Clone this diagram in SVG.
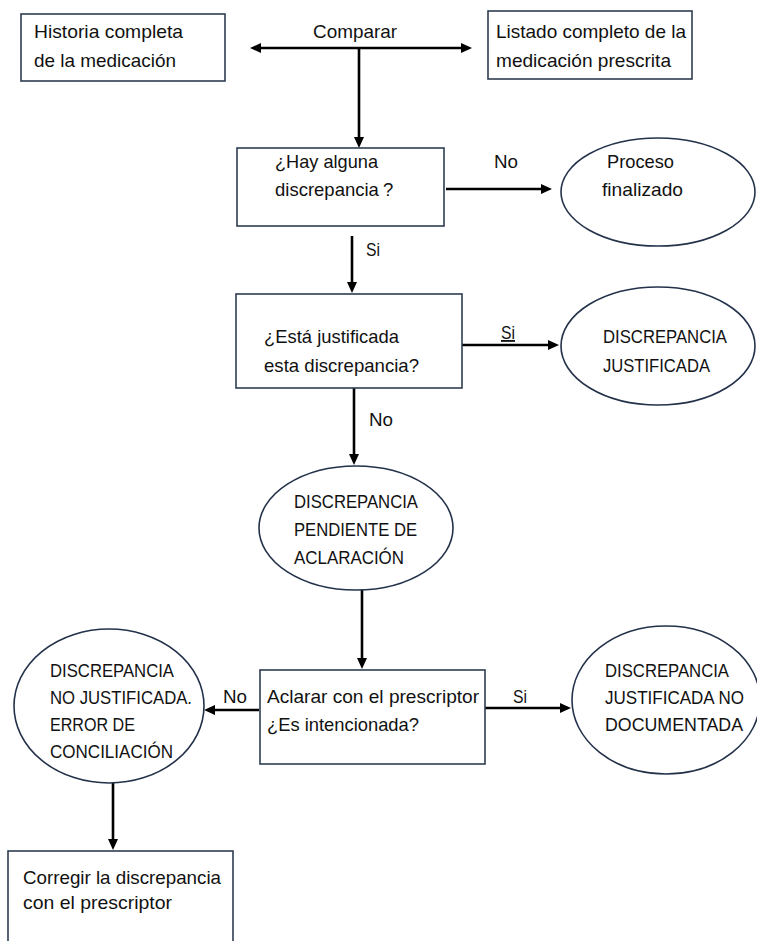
<svg xmlns="http://www.w3.org/2000/svg" width="757" height="941" viewBox="0 0 757 941">
<defs>
<style>
.bx{fill:#fff;stroke:#2f3c50;stroke-width:1.6}
.el{fill:#fff;stroke:#23324a;stroke-width:1.6}
.t{font-family:"Liberation Sans",Arial,sans-serif;font-size:18.5px;fill:#111}
.c{fill:none;stroke:#000;stroke-width:2.6}
</style>
<marker id="arr" viewBox="0 0 11 10" refX="7" refY="5" markerWidth="11" markerHeight="10" markerUnits="userSpaceOnUse" orient="auto-start-reverse">
<path d="M0,0 L11,5 L0,10 z" fill="#000"/>
</marker>
</defs>
<rect width="757" height="941" fill="#fff"/>

<g id="connectors">
<line class="c" x1="254" y1="48" x2="468" y2="48" marker-start="url(#arr)" marker-end="url(#arr)"/>
<line class="c" x1="359" y1="48" x2="359" y2="144" marker-end="url(#arr)"/>
<line class="c" x1="446" y1="189" x2="548" y2="189" marker-end="url(#arr)"/>
<line class="c" x1="352" y1="236" x2="352" y2="289" marker-end="url(#arr)"/>
<line class="c" x1="462" y1="345" x2="555" y2="345" marker-end="url(#arr)"/>
<line class="c" x1="354" y1="388" x2="354" y2="461" marker-end="url(#arr)"/>
<line class="c" x1="362" y1="590" x2="362" y2="665" marker-end="url(#arr)"/>
<line class="c" x1="259" y1="710" x2="208" y2="710" marker-end="url(#arr)"/>
<line class="c" x1="485" y1="708" x2="567" y2="708" marker-end="url(#arr)"/>
<line class="c" x1="113" y1="783" x2="113" y2="846" marker-end="url(#arr)"/>
<text class="t" x="313" y="38" textLength="84" lengthAdjust="spacingAndGlyphs">Comparar</text>
<text class="t" x="494" y="168" textLength="24" lengthAdjust="spacingAndGlyphs">No</text>
<text class="t" x="366" y="256" textLength="14" lengthAdjust="spacingAndGlyphs">Si</text>
<text class="t" x="501" y="339" textLength="14" lengthAdjust="spacingAndGlyphs" text-decoration="underline">Si</text>
<text class="t" x="369" y="426" textLength="24" lengthAdjust="spacingAndGlyphs">No</text>
<text class="t" x="223" y="703" textLength="24" lengthAdjust="spacingAndGlyphs">No</text>
<text class="t" x="513" y="703" textLength="14" lengthAdjust="spacingAndGlyphs">Si</text>
</g>

<g id="historia">
<rect class="bx" x="21" y="14" width="204" height="67"/>
<text class="t" x="34" y="38" textLength="149" lengthAdjust="spacingAndGlyphs">Historia completa</text>
<text class="t" x="34" y="67" textLength="142" lengthAdjust="spacingAndGlyphs">de la medicación</text>
</g>

<g id="listado">
<rect class="bx" x="488" y="11" width="204" height="68"/>
<text class="t" x="496" y="38" textLength="190" lengthAdjust="spacingAndGlyphs">Listado completo de la</text>
<text class="t" x="496" y="67" textLength="175" lengthAdjust="spacingAndGlyphs">medicación prescrita</text>
</g>

<g id="hay-discrepancia">
<rect class="bx" x="237" y="148" width="207" height="78"/>
<text class="t" x="275" y="168" textLength="103" lengthAdjust="spacingAndGlyphs">¿Hay alguna</text>
<text class="t" x="275" y="196">discrepancia<tspan dx="4">?</tspan></text>
</g>

<g id="proceso-finalizado">
<ellipse class="el" cx="658" cy="192" rx="97" ry="54"/>
<text class="t" x="607" y="168" textLength="67" lengthAdjust="spacingAndGlyphs">Proceso</text>
<text class="t" x="602" y="196" textLength="81" lengthAdjust="spacingAndGlyphs">finalizado</text>
</g>

<g id="esta-justificada">
<rect class="bx" x="236" y="294" width="226" height="94"/>
<text class="t" x="264" y="343" textLength="135" lengthAdjust="spacingAndGlyphs">¿Está justificada</text>
<text class="t" x="264" y="372" textLength="155" lengthAdjust="spacingAndGlyphs">esta discrepancia?</text>
</g>

<g id="discrepancia-justificada">
<ellipse class="el" cx="658" cy="346" rx="97" ry="59"/>
<text class="t" x="603" y="343" textLength="124" lengthAdjust="spacingAndGlyphs">DISCREPANCIA</text>
<text class="t" x="603" y="372" textLength="107" lengthAdjust="spacingAndGlyphs">JUSTIFICADA</text>
</g>

<g id="pendiente-aclaracion">
<ellipse class="el" cx="356" cy="528" rx="97" ry="62"/>
<text class="t" x="294" y="508" textLength="124" lengthAdjust="spacingAndGlyphs">DISCREPANCIA</text>
<text class="t" x="294" y="536" textLength="123" lengthAdjust="spacingAndGlyphs">PENDIENTE DE</text>
<text class="t" x="294" y="564" textLength="110" lengthAdjust="spacingAndGlyphs">ACLARACIÓN</text>
</g>

<g id="aclarar-prescriptor">
<rect class="bx" x="260" y="670" width="225" height="94"/>
<text class="t" x="267" y="703" textLength="212" lengthAdjust="spacingAndGlyphs">Aclarar con el prescriptor</text>
<text class="t" x="267" y="731" textLength="152" lengthAdjust="spacingAndGlyphs">¿Es intencionada?</text>
</g>

<g id="no-justificada">
<ellipse class="el" cx="109" cy="706" rx="95" ry="77"/>
<text class="t" x="50" y="677" textLength="124" lengthAdjust="spacingAndGlyphs">DISCREPANCIA</text>
<text class="t" x="50" y="704" textLength="142" lengthAdjust="spacingAndGlyphs">NO JUSTIFICADA.</text>
<text class="t" x="50" y="731" textLength="85" lengthAdjust="spacingAndGlyphs">ERROR DE</text>
<text class="t" x="50" y="758" textLength="123" lengthAdjust="spacingAndGlyphs">CONCILIACIÓN</text>
</g>

<g id="justificada-no-documentada">
<ellipse class="el" cx="666" cy="700" rx="94" ry="74"/>
<text class="t" x="605" y="677" textLength="124" lengthAdjust="spacingAndGlyphs">DISCREPANCIA</text>
<text class="t" x="605" y="704" textLength="139" lengthAdjust="spacingAndGlyphs">JUSTIFICADA NO</text>
<text class="t" x="605" y="731" textLength="138" lengthAdjust="spacingAndGlyphs">DOCUMENTADA</text>
</g>

<g id="corregir">
<rect class="bx" x="8" y="851" width="225" height="120"/>
<text class="t" x="23" y="884" textLength="198" lengthAdjust="spacingAndGlyphs">Corregir la discrepancia</text>
<text class="t" x="23" y="909" textLength="149" lengthAdjust="spacingAndGlyphs">con el prescriptor</text>
</g>
</svg>
